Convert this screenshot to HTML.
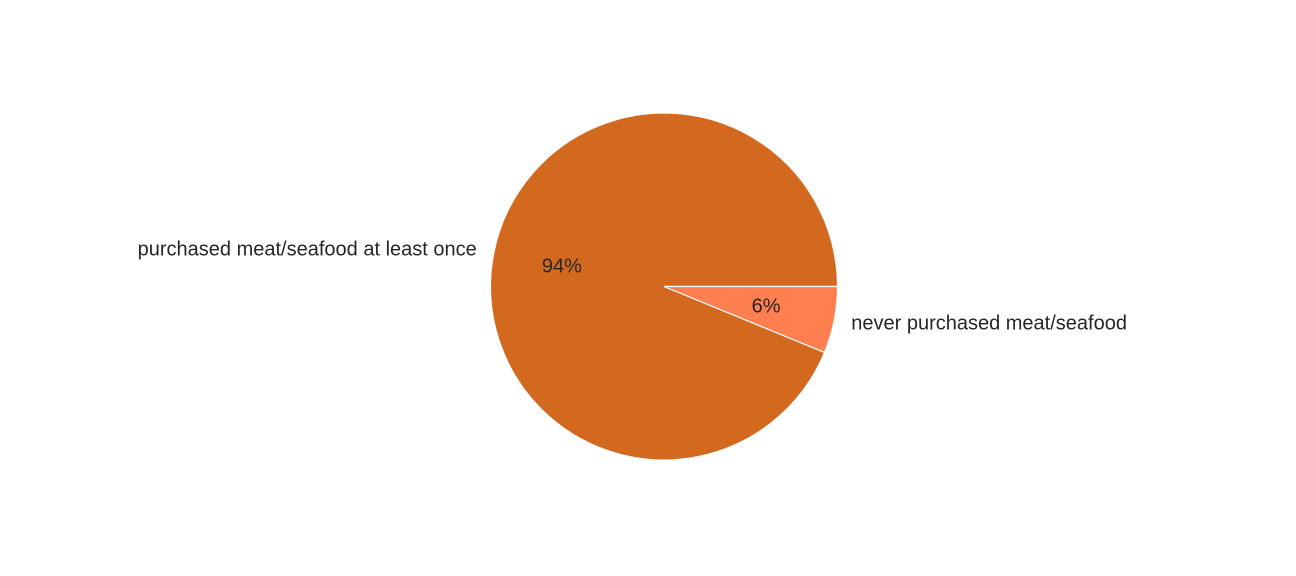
<!DOCTYPE html>
<html><head><meta charset="utf-8"><style>
html,body{margin:0;padding:0;background:#fff;}
svg{display:block;}
text{font-family:"Liberation Sans",sans-serif;fill:#262626;}
</style></head><body>
<svg id="chart" width="1296" height="576" viewBox="0 0 1296 576"></svg>
<script>
const categories = ["purchased meat/seafood at least once", "never purchased meat/seafood"];
const values = [93.8, 6.2];
const colors = ["#d2691e", "#ff7f50"];
const cx = 664, cy = 286.5, r = 173.5;
const svg = document.getElementById('chart');
const NS = 'http://www.w3.org/2000/svg';
const total = values.reduce((a,b)=>a+b,0);
let start = 0;
function pt(a, d){ return [cx + d*Math.cos(a), cy - d*Math.sin(a)]; }
values.forEach((v,i)=>{
  const ang = v/total*2*Math.PI;
  const end = start + ang;
  const [x1,y1] = pt(start,r), [x2,y2] = pt(end,r);
  const large = ang > Math.PI ? 1 : 0;
  const p = document.createElementNS(NS,'path');
  p.setAttribute('d', `M${cx},${cy} L${x1},${y1} A${r},${r} 0 ${large} 0 ${x2},${y2} Z`);
  p.setAttribute('fill', colors[i]);
  p.setAttribute('stroke', '#fff');
  p.setAttribute('stroke-width', '1.2');
  
  
  svg.appendChild(p);
  const mid = start + ang/2;
  const [lx,ly] = pt(mid, r*1.1);
  const t = document.createElementNS(NS,'text');
  t.setAttribute('x', lx); t.setAttribute('y', ly);
  t.setAttribute('font-size', '20');
  t.setAttribute('dominant-baseline', 'central');
  t.setAttribute('text-anchor', Math.cos(mid) < 0 ? 'end' : 'start');
  t.textContent = categories[i];
  
  
  svg.appendChild(t);
  const [px,py] = pt(mid, r*0.6);
  const pc = document.createElementNS(NS,'text');
  pc.setAttribute('x', px); pc.setAttribute('y', py);
  pc.setAttribute('font-size', '20');
  pc.setAttribute('dominant-baseline', 'central');
  pc.setAttribute('text-anchor', 'middle');
  pc.textContent = Math.round(v/total*100) + '%';
  
  
  svg.appendChild(pc);
  start = end;
});
</script>
</body></html>
